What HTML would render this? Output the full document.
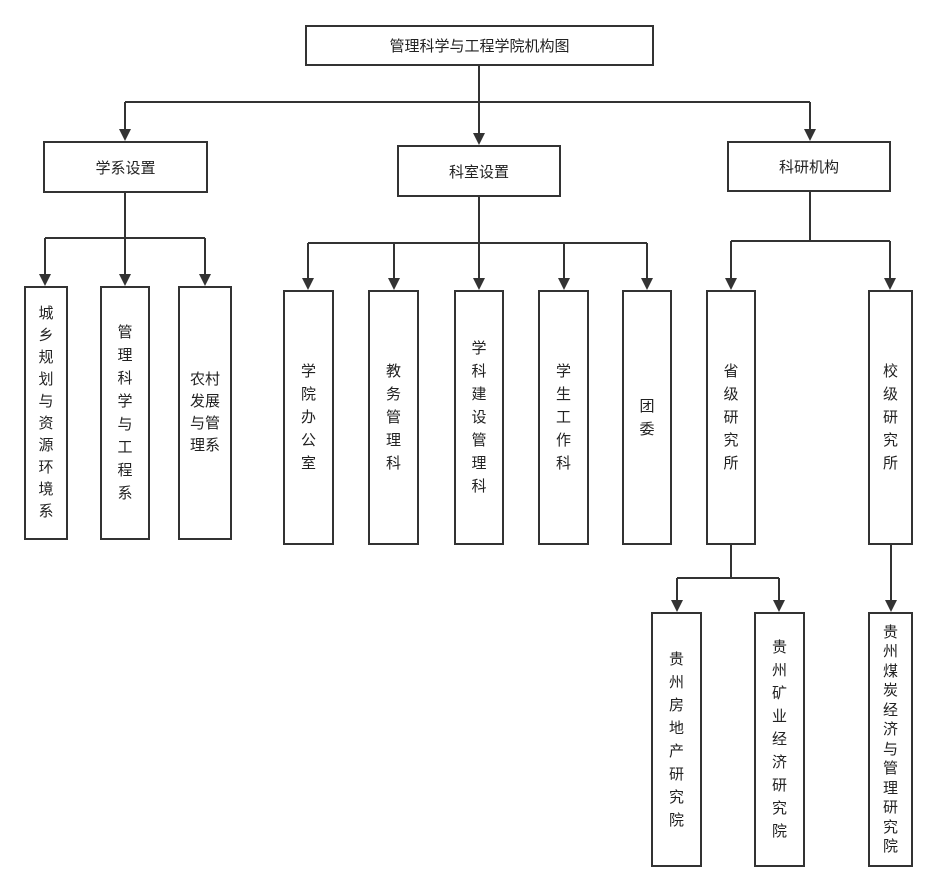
<!DOCTYPE html>
<html><head><meta charset="utf-8"><style>
body{margin:0;width:937px;height:890px;background:#fff;position:relative;overflow:hidden;font-family:"Liberation Sans","Noto Sans CJK SC",sans-serif;color:#222}
.b{position:absolute;box-sizing:border-box;border:2px solid #333;background:#fff;display:flex;align-items:center;justify-content:center;text-align:center;font-size:15px}
.v{line-height:23px;width:16px;word-break:break-all}
.v2{line-height:22px;width:34px;word-break:break-all}
svg{position:absolute;left:0;top:0}
</style></head><body>
<svg width="937" height="890">
<g stroke="#333" stroke-width="2" fill="none">
<path d="M479 65V102M125 102H810M125 102V133M479 102V137M810 102V133"/>
<path d="M125 192V238M45 238H205M45 238V278M125 238V278M205 238V278"/>
<path d="M479 196V243M308 243H647M308 243V282M394 243V282M479 243V282M564 243V282M647 243V282"/>
<path d="M810 191V241M731 241H890M731 241V282M890 241V282"/>
<path d="M731 544V578M677 578H779M677 578V604M779 578V604"/>
<path d="M891 544V604"/>
</g>
<g fill="#333">
<path d="M119 129h12l-6 12z"/><path d="M473 133h12l-6 12z"/><path d="M804 129h12l-6 12z"/>
<path d="M39 274h12l-6 12z"/><path d="M119 274h12l-6 12z"/><path d="M199 274h12l-6 12z"/>
<path d="M302 278h12l-6 12z"/><path d="M388 278h12l-6 12z"/><path d="M473 278h12l-6 12z"/><path d="M558 278h12l-6 12z"/><path d="M641 278h12l-6 12z"/>
<path d="M725 278h12l-6 12z"/><path d="M884 278h12l-6 12z"/>
<path d="M671 600h12l-6 12z"/><path d="M773 600h12l-6 12z"/><path d="M885 600h12l-6 12z"/>
</g>
</svg>
<div class="b" style="left:305px;top:25px;width:349px;height:41px">管理科学与工程学院机构图</div>
<div class="b" style="left:43px;top:141px;width:165px;height:52px">学系设置</div>
<div class="b" style="left:397px;top:145px;width:164px;height:52px">科室设置</div>
<div class="b" style="left:727px;top:141px;width:164px;height:51px">科研机构</div>

<div class="b" style="left:24px;top:286px;width:44px;height:254px"><div class="v" style="line-height:22px">城乡规划与资源环境系</div></div>
<div class="b" style="left:100px;top:286px;width:50px;height:254px"><div class="v">管理科学与工程系</div></div>
<div class="b" style="left:178px;top:286px;width:54px;height:254px"><div class="v2">农村发展与管理系</div></div>

<div class="b" style="left:283px;top:290px;width:51px;height:255px"><div class="v">学院办公室</div></div>
<div class="b" style="left:368px;top:290px;width:51px;height:255px"><div class="v">教务管理科</div></div>
<div class="b" style="left:454px;top:290px;width:50px;height:255px"><div class="v">学科建设管理科</div></div>
<div class="b" style="left:538px;top:290px;width:51px;height:255px"><div class="v">学生工作科</div></div>
<div class="b" style="left:622px;top:290px;width:50px;height:255px"><div class="v">团委</div></div>

<div class="b" style="left:706px;top:290px;width:50px;height:255px"><div class="v">省级研究所</div></div>
<div class="b" style="left:868px;top:290px;width:45px;height:255px"><div class="v">校级研究所</div></div>

<div class="b" style="left:651px;top:612px;width:51px;height:255px"><div class="v">贵州房地产研究院</div></div>
<div class="b" style="left:754px;top:612px;width:51px;height:255px"><div class="v">贵州矿业经济研究院</div></div>
<div class="b" style="left:868px;top:612px;width:45px;height:255px"><div class="v" style="line-height:19.5px">贵州煤炭经济与管理研究院</div></div>
</body></html>
